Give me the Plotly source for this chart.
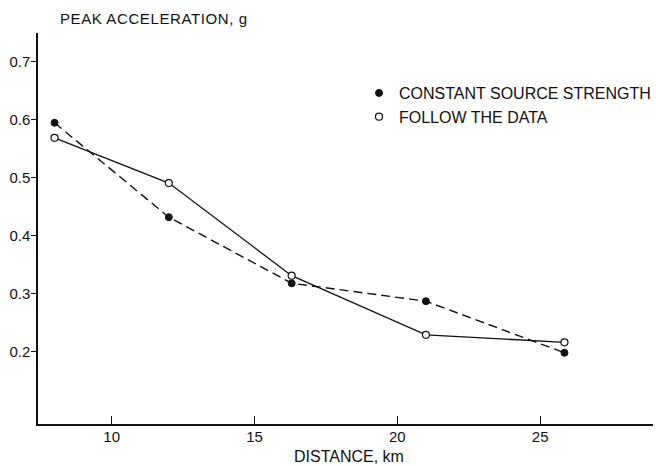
import plotly.graph_objects as go

# Data
distance_km = [8.0, 12.0, 16.3, 21.0, 25.85]
constant_source = [0.595, 0.432, 0.318, 0.287, 0.198]
follow_data = [0.569, 0.491, 0.331, 0.229, 0.216]

x_ticks = [10, 15, 20, 25]
y_ticks = [0.2, 0.3, 0.4, 0.5, 0.6, 0.7]
y_tick_text = ["0.2", "0.3", "0.4", "0.5", "0.6", "0.7"]

FONT = "Liberation Sans"
INK = "#111111"

fig = go.Figure()

# connecting lines
fig.add_trace(go.Scatter(x=distance_km, y=constant_source, mode="lines",
                         line=dict(color=INK, width=1.4, dash="9px,5px"),
                         showlegend=False, hoverinfo="skip"))
fig.add_trace(go.Scatter(x=distance_km, y=follow_data, mode="lines",
                         line=dict(color=INK, width=1.3),
                         showlegend=False, hoverinfo="skip"))
# markers (also legend entries)
fig.add_trace(go.Scatter(x=distance_km, y=constant_source, mode="markers",
                         name="CONSTANT SOURCE STRENGTH", legendgroup="a",
                         marker=dict(symbol="circle", size=7, color=INK,
                                     line=dict(color=INK, width=1))))
fig.add_trace(go.Scatter(x=distance_km, y=follow_data, mode="markers",
                         name="FOLLOW THE DATA", legendgroup="b",
                         marker=dict(symbol="circle", size=7, color="white",
                                     line=dict(color=INK, width=1.2))))

fig.update_layout(
    width=656, height=466,
    margin=dict(l=38, r=0, t=33, b=42),
    paper_bgcolor="white", plot_bgcolor="white",
    font=dict(family=FONT, size=15, color=INK),
    showlegend=True,
    legend=dict(x=0.522, y=0.89, xanchor="left", yanchor="top",
                bgcolor="rgba(0,0,0,0)", font=dict(family=FONT, size=16, color=INK),
                itemwidth=30, tracegroupgap=0),
    xaxis=dict(range=[7.42, 28.95], tickvals=x_ticks, ticktext=[str(v) for v in x_ticks],
               automargin=False, ticklabelstandoff=-2,
               showgrid=False, zeroline=False, showline=True, linecolor=INK, linewidth=1.5,
               ticks="inside", ticklen=8, tickcolor=INK, tickwidth=1.2,
               tickfont=dict(family=FONT, size=15, color=INK)),
    yaxis=dict(range=[0.075, 0.75], tickvals=y_ticks, ticktext=y_tick_text,
               automargin=False, ticklabelstandoff=-2,
               showgrid=False, zeroline=False, showline=True, linecolor=INK, linewidth=1.5,
               ticks="outside", ticklen=5, tickcolor=INK, tickwidth=1.2,
               tickfont=dict(family=FONT, size=15, color=INK)),
    annotations=[
        dict(text="PEAK ACCELERATION, g", xref="paper", yref="paper",
             x=0.188, y=1.038, xanchor="center", yanchor="middle",
             showarrow=False, font=dict(family=FONT, size=15, color=INK)),
        dict(text="DISTANCE, km", xref="paper", yref="paper",
             x=0.505, y=-0.084, xanchor="center", yanchor="middle",
             showarrow=False, font=dict(family=FONT, size=16, color=INK)),
    ],
)

post = """
document.body.style.margin='0';
document.body.style.overflow='hidden';
function spaceTitle(){
  document.querySelectorAll('.annotation-text').forEach(function(t){
    if(t.textContent.indexOf('PEAK')===0){ t.style.letterSpacing='0.6px'; }
  });
}
spaceTitle();
setTimeout(spaceTitle, 0);
"""

fig.write_html("out.html", config={"displayModeBar": False}, post_script=post)
